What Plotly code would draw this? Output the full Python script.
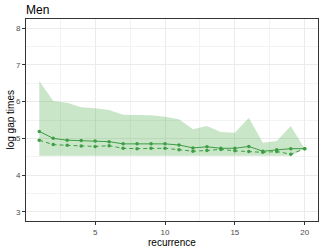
import plotly.graph_objects as go

recurrence = list(range(1, 21))
solid_vals = [5.19, 5.00, 4.95, 4.94, 4.93, 4.91, 4.85, 4.85, 4.85, 4.85,
              4.82, 4.74, 4.77, 4.73, 4.73, 4.78, 4.65, 4.69, 4.72, 4.72]
dashed_vals = [4.95, 4.83, 4.81, 4.79, 4.78, 4.80, 4.73, 4.72, 4.73, 4.73,
               4.69, 4.65, 4.67, 4.70, 4.66, 4.64, 4.62, 4.64, 4.57, 4.72]
upper_vals = [6.56, 6.02, 5.97, 5.85, 5.82, 5.77, 5.64, 5.63, 5.63, 5.59,
              5.52, 5.25, 5.34, 5.17, 5.15, 5.56, 4.88, 4.93, 5.34, 4.72]
lower_vals = [4.53, 4.53, 4.53, 4.53, 4.53, 4.53, 4.53, 4.53, 4.53, 4.53,
              4.53, 4.53, 4.53, 4.53, 4.53, 4.53, 4.53, 4.53, 4.53, 4.72]
x_ticks = [5, 10, 15, 20]
y_ticks = [3, 4, 5, 6, 7, 8]

green = "#3E9D45"
fill = "rgba(77,175,74,0.3)"

W, H = 324, 249
ML, MR, MT, MB = 26, 6, 19, 28
PW, PH = W - ML - MR, H - MT - MB

fig = go.Figure()
fig.add_trace(go.Scatter(x=recurrence, y=lower_vals, mode="lines",
                         line=dict(width=0), showlegend=False, hoverinfo="skip"))
fig.add_trace(go.Scatter(x=recurrence, y=upper_vals, mode="lines",
                         line=dict(width=0), fill="tonexty", fillcolor=fill,
                         showlegend=False, hoverinfo="skip"))
fig.add_trace(go.Scatter(x=recurrence, y=solid_vals, mode="lines+markers",
                         line=dict(color=green, width=1),
                         marker=dict(color=green, size=3.5), showlegend=False))
fig.add_trace(go.Scatter(x=recurrence, y=dashed_vals, mode="lines+markers",
                         line=dict(color=green, width=1, dash="4px,3px"),
                         marker=dict(color=green, size=3.5), showlegend=False))

font = "Liberation Sans, Arial, sans-serif"
axis_common = dict(
    automargin=False,
    showgrid=True, gridcolor="#ebebeb", gridwidth=1,
    zeroline=False, showline=True, linecolor="#333333", linewidth=1, mirror=True,
    ticks="outside", ticklen=3, tickcolor="#333333", tickwidth=1,
    tickfont=dict(family=font, size=8, color="#4d4d4d"),
    minor=dict(showgrid=True, gridcolor="#f3f3f3", gridwidth=0.6),
)
fig.update_layout(
    width=W, height=H,
    margin=dict(l=ML, r=MR, t=MT, b=MB),
    paper_bgcolor="white", plot_bgcolor="white",
    title=dict(text="Men", x=ML / W, xanchor="left", y=1 - 9.5 / H, yanchor="middle",
               font=dict(family=font, size=12, color="black")),
    xaxis=dict(range=[0.05, 20.95], tickvals=x_ticks, **axis_common),
    yaxis=dict(range=[2.75, 8.25], tickvals=y_ticks, **axis_common),
    annotations=[
        dict(text="recurrence", xref="paper", yref="paper",
             x=0.5, y=-(242 - (H - MB)) / PH, xanchor="center", yanchor="middle",
             showarrow=False, font=dict(family=font, size=10, color="black")),
        dict(text="log gap times", xref="paper", yref="paper",
             x=-(ML - 9.5) / PW, y=0.5, xanchor="center", yanchor="middle",
             textangle=-90, showarrow=False,
             font=dict(family=font, size=10, color="black")),
    ],
)
fig.update_xaxes(minor=dict(tickvals=[2.5, 7.5, 12.5, 17.5], ticks=""))
fig.update_yaxes(minor=dict(tickvals=[3.5, 4.5, 5.5, 6.5, 7.5], ticks=""))

fig.write_html("out.html", config={"displayModeBar": False},
               post_script="document.body.style.margin='0';")
